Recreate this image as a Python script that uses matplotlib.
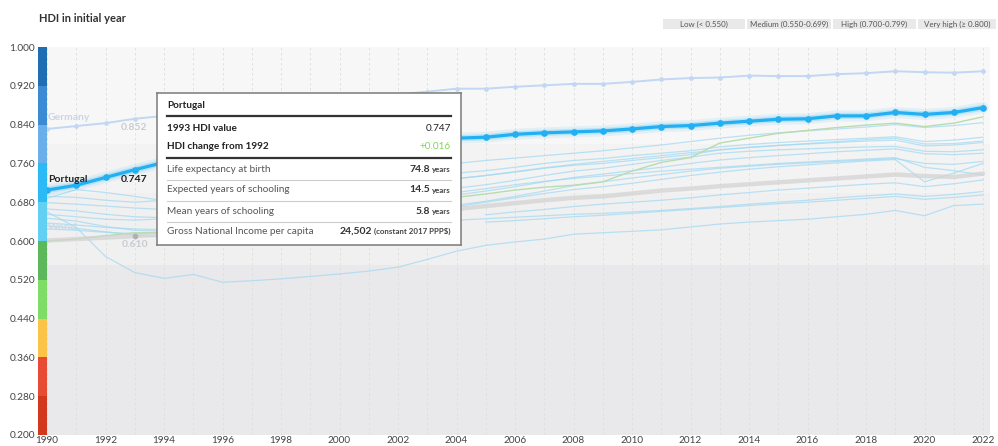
import numpy as np
import matplotlib
matplotlib.use('Agg')
import matplotlib.pyplot as plt

plt.rcParams['font.family'] = ['Lato', 'DejaVu Sans']

nan = np.nan
years = np.arange(1990, 2023)

# HDI series
portugal = [0.705, 0.715, 0.731, 0.747, 0.762, 0.770, 0.777, 0.784, 0.790, 0.795,
            0.799, 0.802, 0.805, 0.808, 0.812, 0.814, 0.820, 0.823, 0.825, 0.827,
            0.831, 0.836, 0.838, 0.843, 0.847, 0.851, 0.852, 0.858, 0.858, 0.865,
            0.861, 0.865, 0.875]
germany = [0.831, 0.837, 0.843, 0.852, 0.858, 0.864, 0.870, 0.876, 0.881, 0.887,
           0.892, 0.897, 0.902, 0.908, 0.914, 0.914, 0.918, 0.921, 0.924, 0.924,
           0.928, 0.933, 0.936, 0.937, 0.941, 0.940, 0.940, 0.944, 0.946, 0.950,
           0.948, 0.947, 0.950]
world = [0.601, 0.604, 0.607, 0.610, 0.614, 0.619, 0.624, 0.629, 0.633, 0.638,
         0.644, 0.649, 0.654, 0.660, 0.666, 0.672, 0.678, 0.684, 0.689, 0.692,
         0.698, 0.704, 0.708, 0.713, 0.717, 0.721, 0.725, 0.729, 0.733, 0.737,
         0.734, 0.732, 0.739]
green_country = [0.600, 0.604, 0.611, 0.617, 0.617, 0.627, 0.635, 0.643, 0.650, 0.653,
                 0.662, 0.664, 0.671, 0.679, 0.690, 0.697, 0.705, 0.711, 0.715, 0.722,
                 0.744, 0.762, 0.772, 0.802, 0.812, 0.822, 0.828, 0.834, 0.839, 0.843,
                 0.836, 0.843, 0.856]

others = [
    [0.692, 0.690, 0.684, 0.680, 0.684, 0.692, 0.702, 0.712, 0.722, 0.731,
     0.739, 0.745, 0.750, 0.755, 0.760, 0.766, 0.771, 0.776, 0.781, 0.786,
     0.792, 0.798, 0.805, 0.812, 0.818, 0.823, 0.827, 0.831, 0.835, 0.840,
     0.834, 0.838, 0.844],
    [0.688, 0.706, 0.700, 0.692, 0.683, 0.688, 0.695, 0.703, 0.712, 0.720,
     0.727, 0.733, 0.736, 0.738, 0.740, 0.745, 0.752, 0.760, 0.766, 0.770,
     0.776, 0.781, 0.786, 0.794, 0.799, 0.803, 0.806, 0.809, 0.812, 0.815,
     0.805, 0.808, 0.814],
    [0.679, 0.676, 0.672, 0.668, 0.665, 0.668, 0.675, 0.683, 0.691, 0.698,
     0.704, 0.710, 0.716, 0.722, 0.729, 0.735, 0.742, 0.750, 0.756, 0.760,
     0.766, 0.772, 0.778, 0.788, 0.793, 0.797, 0.801, 0.805, 0.809, 0.812,
     0.800, 0.801, 0.806],
    [0.666, 0.662, 0.655, 0.650, 0.648, 0.652, 0.658, 0.665, 0.672, 0.680,
     0.687, 0.693, 0.699, 0.704, 0.709, 0.716, 0.725, 0.735, 0.744, 0.750,
     0.758, 0.766, 0.773, 0.781, 0.785, 0.788, 0.790, 0.792, 0.794, 0.795,
     0.785, 0.784, 0.788],
    [0.647, 0.641, 0.630, 0.622, 0.620, 0.624, 0.632, 0.640, 0.648, 0.656,
     0.664, 0.672, 0.680, 0.688, 0.695, 0.703, 0.712, 0.722, 0.731, 0.738,
     0.745, 0.752, 0.760, 0.767, 0.772, 0.776, 0.780, 0.784, 0.787, 0.790,
     0.780, 0.778, 0.781],
    [0.637, 0.633, 0.628, 0.625, 0.623, 0.628, 0.634, 0.640, 0.646, 0.652,
     0.657, 0.661, 0.665, 0.669, 0.674, 0.682, 0.692, 0.703, 0.714, 0.722,
     0.730, 0.737, 0.744, 0.750, 0.754, 0.758, 0.761, 0.764, 0.767, 0.770,
     0.760, 0.758, 0.764],
    [0.625, 0.622, 0.618, 0.615, 0.617, 0.624, 0.632, 0.641, 0.650, 0.659,
     0.668, 0.676, 0.684, 0.692, 0.700, 0.708, 0.716, 0.723, 0.729, 0.734,
     0.739, 0.744, 0.748, 0.752, 0.756, 0.760, 0.763, 0.766, 0.769, 0.772,
     0.752, 0.745, 0.736],
    [nan, nan, nan, nan, nan, 0.600, 0.608, 0.616, 0.625, 0.634,
     0.642, 0.650, 0.657, 0.664, 0.671, 0.680, 0.689, 0.698, 0.706, 0.712,
     0.719, 0.727, 0.735, 0.742, 0.748, 0.753, 0.757, 0.761, 0.765, 0.768,
     0.722, 0.740, 0.760],
    [nan, nan, nan, nan, nan, nan, nan, nan, nan, nan,
     nan, nan, nan, nan, nan, 0.654, 0.660, 0.665, 0.671, 0.676,
     0.680, 0.684, 0.689, 0.695, 0.700, 0.705, 0.709, 0.713, 0.717, 0.720,
     0.712, 0.718, 0.726],
    [0.631, 0.626, 0.619, 0.612, 0.608, 0.610, 0.613, 0.617, 0.621, 0.625,
     0.629, 0.632, 0.636, 0.640, 0.643, 0.646, 0.649, 0.652, 0.655, 0.657,
     0.660, 0.663, 0.667, 0.671, 0.676, 0.680, 0.684, 0.689, 0.693, 0.697,
     0.692, 0.696, 0.702],
    [0.660, 0.628, 0.568, 0.535, 0.523, 0.531, 0.515, 0.518, 0.522, 0.527,
     0.532, 0.538, 0.546, 0.562, 0.579, 0.591, 0.598, 0.604, 0.614, 0.617,
     0.620, 0.623, 0.629, 0.635, 0.639, 0.642, 0.645, 0.650, 0.655, 0.663,
     0.652, 0.673, 0.676],
    [nan, nan, nan, nan, nan, nan, nan, nan, nan, nan,
     nan, nan, nan, nan, nan, 0.639, 0.642, 0.646, 0.650, 0.653,
     0.657, 0.661, 0.665, 0.669, 0.673, 0.677, 0.680, 0.684, 0.688, 0.692,
     0.686, 0.690, 0.695],
    [0.655, 0.650, 0.645, 0.643, 0.646, 0.653, 0.661, 0.670, 0.679, 0.688,
     0.697, 0.705, 0.713, 0.721, 0.728, 0.735, 0.743, 0.751, 0.758, 0.764,
     0.770, 0.776, 0.782, 0.788, 0.793, 0.797, 0.800, 0.803, 0.806, 0.808,
     0.796, 0.798, 0.803],
]

# colour scale on the left
scale_bottoms = [0.20, 0.28, 0.36, 0.44, 0.52, 0.60, 0.68, 0.76, 0.84, 0.92]
scale_colors = ['#d2381c', '#e84b33', '#fcc447', '#7fdc67', '#5cb85a',
                '#62d0f2', '#2bbaf6', '#6aaeea', '#3a8bd4', '#1f6db2']

yticks = [0.200, 0.280, 0.360, 0.440, 0.520, 0.600, 0.680, 0.760, 0.840, 0.920, 1.000]
legend_labels = ['Low (< 0.550)', 'Medium (0.550-0.699)', 'High (0.700-0.799)', 'Very high (≥ 0.800)']

W, H = 998, 446
fig = plt.figure(figsize=(W / 100, H / 100), dpi=100)
fig.patch.set_facecolor('white')

def px_rect(x0, y0, x1, y1):
    return [x0 / W, (H - y1) / H, (x1 - x0) / W, (y1 - y0) / H]

ax = fig.add_axes(px_rect(47, 47, 990, 435))
ax.set_xlim(1990, 2022 + 7 / 29.25)
ax.set_ylim(0.2, 1.0)

# bands
ax.axhspan(0.8, 1.0, color='#f7f7f7', zorder=0, lw=0)
ax.axhspan(0.7, 0.8, color='#f3f3f3', zorder=0, lw=0)
ax.axhspan(0.55, 0.7, color='#f0f0f1', zorder=0, lw=0)
ax.axhspan(0.2, 0.55, color='#e9e9eb', zorder=0, lw=0)

for yr in years:
    ax.axvline(yr, color='#dedede', lw=0.6, ls=(0, (3, 3)), zorder=1)

for s in others:
    ax.plot(years, s, color='#9fd8f2', lw=0.9, alpha=0.7, zorder=2)

ax.plot(years, green_country, color='#b9dcae', lw=1.0, zorder=3)
ax.plot(years, world, color='#d2d2d2', lw=3.2, alpha=0.7, zorder=3,
        solid_capstyle='round')
ax.plot(years[3], world[3], 'o', color='#b0b0b0', ms=3, zorder=4)
ax.plot(years, germany, color='#c2d7f3', lw=1.4, marker='o', ms=2.4, zorder=3)

ax.plot(years, portugal, color='#2cb5f5', lw=8, alpha=0.10, zorder=4, solid_capstyle='round')
ax.plot(years, portugal, color='#2cb5f5', lw=4.5, alpha=0.22, zorder=4, solid_capstyle='round')
ax.plot(years, portugal, color='#22b0f3', lw=2.3, marker='o', ms=3.8, zorder=5)

ax.set_xticks(years[::2])
ax.set_xticklabels([str(y) for y in years[::2]])
ax.tick_params(axis='x', length=0, pad=1, labelsize=7.2, colors='#444444')
ax.set_yticks([])
for sp in ax.spines.values():
    sp.set_visible(False)

def xp(px):
    return 1990 + (px - 47) / 29.25

def yp(py):
    return 1 - (py - 47) / 485

ax.text(xp(48), yp(117), 'Germany', color='#c9d6e8', fontsize=7.5, fontweight='bold',
        va='center', ha='left', zorder=6)
ax.text(xp(134), yp(127), '0.852', color='#c8ccd2', fontsize=7.5, fontweight='bold',
        va='center', ha='center', zorder=6)
ax.text(xp(48), yp(179), 'Portugal', color='#222222', fontsize=7.5, fontweight='bold',
        va='center', ha='left', zorder=6)
ax.text(xp(134), yp(179), '0.747', color='#222222', fontsize=7.5, fontweight='bold',
        va='center', ha='center', zorder=6)
ax.text(xp(48), yp(227), 'World', color='#cdd9e4', fontsize=7.5, fontweight='bold',
        va='center', ha='left', zorder=6)
ax.text(xp(135), yp(244), '0.610', color='#c8ccd2', fontsize=7.5, fontweight='bold',
        va='center', ha='center', zorder=6)

# colour bar axis
cax = fig.add_axes(px_rect(38, 47, 47, 435))
cax.set_xlim(0, 1)
cax.set_ylim(0.2, 1.0)
cax.bar([0.5] * len(scale_bottoms), [0.08] * len(scale_bottoms), bottom=scale_bottoms,
        width=1, color=scale_colors, lw=0)
cax.set_xticks([])
cax.set_yticks(yticks)
cax.set_yticklabels(['%.3f' % v for v in yticks])
cax.tick_params(axis='y', length=0, pad=2, labelsize=7.3, colors='#444444')
for sp in cax.spines.values():
    sp.set_visible(False)

# title and legend
fig.text(39 / W, 1 - 18 / H, 'HDI in initial year', fontsize=8.0, fontweight='bold',
         color='#333333', va='center', ha='left')
box_edges = [(663, 745), (747, 831), (833, 916), (918, 996)]
for (x0, x1), lab in zip(box_edges, legend_labels):
    lax = fig.add_axes(px_rect(x0, 19, x1, 29))
    lax.set_facecolor('#e9e9e9')
    lax.set_xticks([])
    lax.set_yticks([])
    for sp in lax.spines.values():
        sp.set_visible(False)
    lax.text(0.5, 0.5, lab, fontsize=5.7, color='#555555', ha='center', va='center',
             transform=lax.transAxes)

# tooltip
tx0, ty0, tx1, ty1 = 157, 93, 461, 245
tax = fig.add_axes(px_rect(tx0, ty0, tx1, ty1))
tax.set_xlim(0, tx1 - tx0)
tax.set_ylim(ty1 - ty0, 0)
tax.set_facecolor('white')
tax.set_xticks([])
tax.set_yticks([])
for sp in tax.spines.values():
    sp.set_color('#7a7a7a')
    sp.set_linewidth(1.1)
tax.set_zorder(10)

L, R = 10, 294
fs = 7.2
tax.text(L, 12.5, 'Portugal', fontsize=fs, fontweight='bold', color='#222222', va='center')
tax.plot([L, R], [23, 23], color='#333333', lw=1.6)
tax.text(L, 35.5, '1993 HDI value', fontsize=fs, fontweight='bold', color='#222222', va='center')
tax.text(R, 35.5, '0.747', fontsize=fs, color='#222222', va='center', ha='right')
tax.text(L, 53.5, 'HDI change from 1992', fontsize=fs, fontweight='bold', color='#222222', va='center')
tax.text(R, 53.5, '+0.016', fontsize=fs, color='#7ed957', va='center', ha='right')
tax.plot([L, R], [65, 65], color='#333333', lw=1.6)

rows = [('Life expectancy at birth', '74.8', 'years', 76),
        ('Expected years of schooling', '14.5', 'years', 97),
        ('Mean years of schooling', '5.8', 'years', 118),
        ('Gross National Income per capita', '24,502', '(constant 2017 PPP$)', 138)]
for i, (lab, num, unit, y) in enumerate(rows):
    tax.text(L, y, lab, fontsize=fs, color='#555555', va='center')
    ut = tax.text(R, y + 0.5, unit, fontsize=5.7, fontweight='bold', color='#444444',
                  va='center', ha='right')
    fig.canvas.draw()
    w = ut.get_window_extent(fig.canvas.get_renderer()).width
    tax.text(R - w - 2, y, num, fontsize=fs + 0.3, fontweight='bold', color='#333333',
             va='center', ha='right')
    if i < 3:
        tax.plot([L, R], [y + 10.5, y + 10.5], color='#cccccc', lw=0.8)

fig.savefig('out.png', dpi=100)
